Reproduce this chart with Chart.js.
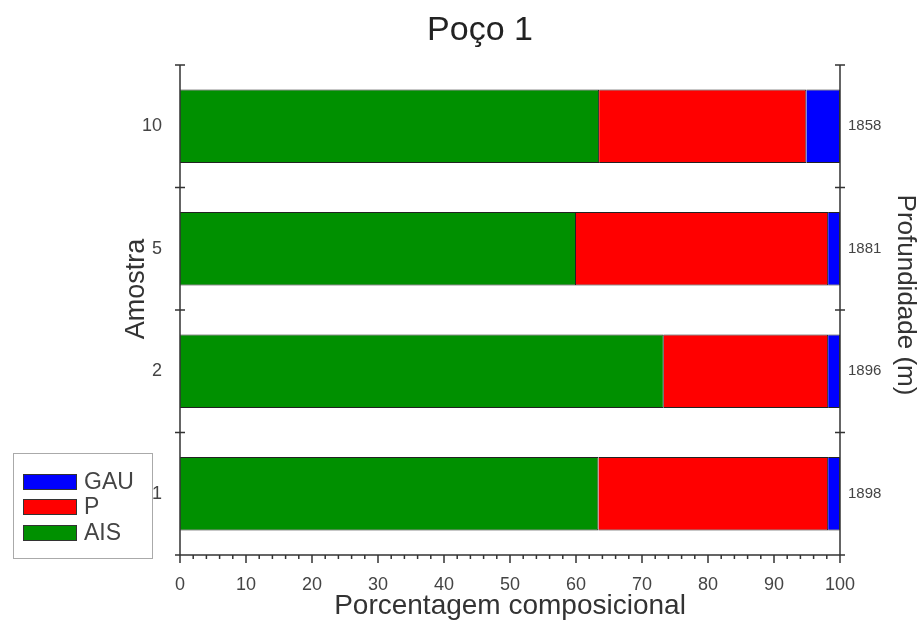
<!DOCTYPE html>
<html>
<head>
<meta charset="utf-8">
<script src="https://cdn.jsdelivr.net/npm/chart.js@4"></script>
<style>
  body { margin: 0; background: #fff; }
  #wrap { width: 921px; height: 622px; }
</style>
</head>
<body>
<div id="wrap"><canvas id="chart" width="921" height="622"></canvas></div>
<script>
const amostras = ['10', '5', '2', '1'];
const profundidades = ['1858', '1881', '1896', '1898'];
const ais = [63.5, 60.0, 73.3, 63.4];
const p = [31.4, 38.2, 24.9, 34.8];
const gau = [5.1, 1.8, 1.8, 1.8];

const FONT = '"Liberation Sans", Arial, sans-serif';
Chart.defaults.font.family = FONT;
Chart.defaults.color = '#444';

// axis lines + tick marks drawn like the original (crossing ticks, minor ticks on x)
const axesPlugin = {
    id: 'axes',
    afterDatasetsDraw(chart) {
        const ctx = chart.ctx;
        const x = chart.scales.x, y = chart.scales.y;
        const top = y.getPixelForValue(-0.5), bottom = y.getPixelForValue(amostras.length - 0.5);
        const left = x.getPixelForValue(0), right = x.getPixelForValue(100);
        ctx.save();
        ctx.strokeStyle = '#333';
        ctx.lineWidth = 1.5;
        ctx.beginPath();
        ctx.moveTo(left, top); ctx.lineTo(left, bottom); ctx.lineTo(right, bottom);
        ctx.moveTo(right, top); ctx.lineTo(right, bottom);
        for (let i = 0; i <= amostras.length; i++) {
            const py = y.getPixelForValue(i - 0.5);
            ctx.moveTo(left - 5, py); ctx.lineTo(left + 5, py);
            ctx.moveTo(right - 5, py); ctx.lineTo(right + 5, py);
        }
        for (let v = 0; v <= 100; v += 2) {
            const px = x.getPixelForValue(v);
            ctx.moveTo(px, bottom); ctx.lineTo(px, bottom + (v % 10 === 0 ? 8 : 4));
        }
        ctx.stroke();
        ctx.restore();
    }
};

// title and side titles, placed where the original has them
const textPlugin = {
    id: 'texts',
    afterDraw(chart) {
        const ctx = chart.ctx;
        ctx.save();
        ctx.textAlign = 'center';
        ctx.textBaseline = 'middle';
        ctx.fillStyle = '#222';
        ctx.font = '34px ' + FONT;
        ctx.fillText('Poço 1', 480, 31);
        ctx.fillStyle = '#333';
        ctx.font = '27px ' + FONT;
        ctx.translate(137, 289);
        ctx.rotate(-Math.PI / 2);
        ctx.fillText('Amostra', 0, 0);
        ctx.restore();
        ctx.save();
        ctx.textAlign = 'center';
        ctx.textBaseline = 'middle';
        ctx.fillStyle = '#333';
        ctx.font = '26px ' + FONT;
        ctx.translate(905, 295);
        ctx.rotate(Math.PI / 2);
        ctx.fillText('Profundidade (m)', 0, 0);
        ctx.restore();
    }
};

const legendPlugin = {
    id: 'boxLegend',
    afterDraw(chart) {
        const ctx = chart.ctx;
        ctx.save();
        ctx.strokeStyle = '#aaa';
        ctx.lineWidth = 1;
        ctx.strokeRect(13.5, 453.5, 139, 105);
        const rows = [482, 507, 533];
        const ds = chart.data.datasets.slice().reverse();
        ds.forEach((d, i) => {
            ctx.fillStyle = d.backgroundColor;
            ctx.fillRect(23, rows[i] - 8, 54, 16);
            ctx.strokeStyle = '#333';
            ctx.strokeRect(23.5, rows[i] - 7.5, 53, 15);
            ctx.fillStyle = '#444';
            ctx.font = '23px ' + FONT;
            ctx.textBaseline = 'middle';
            ctx.fillText(d.label, 84, rows[i] + 1);
        });
        ctx.restore();
    }
};

new Chart(document.getElementById('chart'), {
    type: 'bar',
    data: {
        labels: amostras,
        datasets: [
            { label: 'AIS', data: ais, backgroundColor: '#009000', borderColor: '#222', borderWidth: 1 },
            { label: 'P', data: p, backgroundColor: '#ff0000', borderColor: '#222', borderWidth: 1 },
            { label: 'GAU', data: gau, backgroundColor: '#0000ff', borderColor: '#222', borderWidth: 1 }
        ]
    },
    plugins: [axesPlugin, textPlugin, legendPlugin],
    options: {
        indexAxis: 'y',
        responsive: false,
        animation: false,
        barPercentage: 0.6,
        categoryPercentage: 1,
        layout: { padding: { left: 0, right: 0, top: 65, bottom: 0 } },
        plugins: {
            legend: { display: false },
            tooltip: { enabled: false },
            title: { display: false }
        },
        scales: {
            x: {
                stacked: true, min: 0, max: 100,
                ticks: { stepSize: 10, padding: 11, font: { size: 18 } },
                grid: { display: false }, border: { display: false },
                title: { display: true, text: 'Porcentagem composicional', color: '#333', font: { size: 28, lineHeight: 1.1 }, padding: 0 },
                afterFit: s => { s.height = 67; }
            },
            y: {
                stacked: true, position: 'left',
                ticks: { padding: 10, font: { size: 18 } },
                grid: { display: false }, border: { display: false },
                afterFit: s => { s.width = 180; }
            },
            y2: {
                type: 'category', position: 'right', labels: profundidades, offset: true,
                ticks: { padding: 0, font: { size: 15 } },
                grid: { display: false }, border: { display: false },
                afterFit: s => { s.width = 81; }
            }
        }
    }
});
</script>
</body>
</html>
